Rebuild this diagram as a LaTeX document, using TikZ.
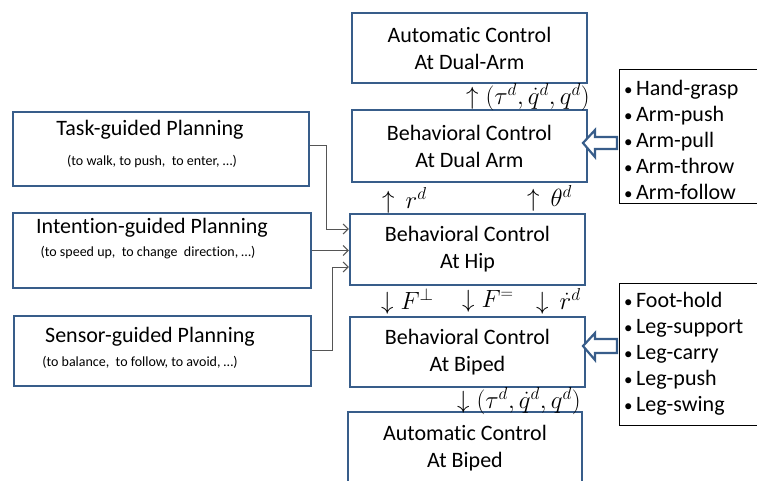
\documentclass[tikz,border=0pt]{standalone}
\usepackage{fontspec}
\setmainfont{Carlito}[Ligatures={NoCommon}]
\usetikzlibrary{arrows.meta}
\definecolor{boxblue}{RGB}{56,93,138}
\definecolor{linkgray}{RGB}{85,85,85}
\begin{document}
\begin{tikzpicture}[x=1pt,y=-1pt,
  ctrl/.style={draw=boxblue, line width=2.4pt, minimum width=235pt, minimum height=71pt,
    align=center, inner sep=0pt, font=\fontsize{22}{27}\selectfont},
  plan/.style={draw=boxblue, line width=2.4pt, inner sep=0pt},
  title/.style={font=\fontsize{22}{26}\selectfont, inner sep=0pt},
  sub/.style={font=\fontsize{14}{16}\selectfont, inner sep=0pt},
  sig/.style={font=\fontsize{24}{28}\selectfont, inner sep=0pt, anchor=west},
  link/.style={draw=linkgray, line width=1pt, -{Straight Barb[length=5pt,width=10pt]}},
  list/.style={draw=black, line width=0.8pt, inner sep=0pt, anchor=north west},
  item/.style={font=\fontsize{22}{26}\selectfont, anchor=base west, inner sep=0pt},
  hollow/.style={draw=boxblue, line width=2.2pt, fill=white, line join=miter},
]
\useasboundingbox (0,0) rectangle (757,480);

% control column
\node[ctrl, minimum height=70pt] (autoarm) at (469.5,48) {Automatic Control\\At Dual-Arm};
\node[ctrl, minimum height=72pt] (behavearm) at (469.5,146) {Behavioral Control\\At Dual Arm};
\node[ctrl] (hip) at (467.5,249.5) {Behavioral Control\\At Hip};
\node[ctrl, minimum height=70pt] (biped) at (467.5,352) {Behavioral Control\\At Biped};
\node[ctrl, minimum width=234pt, minimum height=72pt] (autobiped) at (465,448) {Automatic Control\\At Biped};

% signals between the control levels
\node[sig] (sigarm) at (466,97) {$\uparrow(\tau^d,\dot{q}^d,q^d)$};
\node[sig] (sigr) at (382,200) {$\uparrow\,r^d$};
\node[sig] (sigtheta) at (527,198) {$\uparrow\,\theta^d$};
\node[sig] (sigfperp) at (381,301) {$\downarrow F^{\perp}$};
\node[sig] (sigfpar) at (462,301) {$\downarrow F^{=}$};
\node[sig] (sigrdot) at (536,301) {$\downarrow\,\dot{r}^d$};
\node[sig] (sigleg) at (457,401) {$\downarrow(\tau^d,\dot{q}^d,q^d)$};

% planning boxes
\node[plan, minimum width=296pt, minimum height=74pt] (task) at (161,149) {};
\node[title] (tasktitle) at (150,130) {Task-guided Planning};
\node[sub] (tasksub) at (152,162) {(to walk, to push,\ \ to enter, …)};

\node[plan, minimum width=298pt, minimum height=75pt] (intent) at (162,250.5) {};
\node[title] (intenttitle) at (152,228) {Intention-guided Planning};
\node[sub] (intentsub) at (148,253) {(to speed up,\ \ to change\ \ direction, …)};

\node[plan, minimum width=297pt, minimum height=70pt] (sensor) at (162.5,351) {};
\node[title] (sensortitle) at (150,337) {Sensor-guided Planning};
\node[sub] (sensorsub) at (140,362) {(to balance,\ \ to follow, to avoid, …)};

% planning inputs to the hip
\draw[link] ([yshift=4pt]task.east) -- ++(16,0) |- ([yshift=20.5pt]hip.west);
\draw[link] (intent.east) -- (intent.east -| hip.west);
\draw[link] ([yshift=1pt]sensor.east) -- ++(20,0) |- ([yshift=-17.5pt]hip.west);

% behaviour lists
\node[list, minimum width=143pt, minimum height=134pt] (armlist) at (619,69) {};
\foreach \t [count=\i from 0] in {Hand-grasp,Arm-push,Arm-pull,Arm-throw,Arm-follow}
  \node[item] (arm\i) at (624,95+26*\i) {{\fontsize{17}{17}\selectfont•}\hspace{3.5pt}\t};

\node[list, minimum width=143pt, minimum height=142pt] (leglist) at (619,283) {};
\foreach \t [count=\i from 0] in {Foot-hold,Leg-support,Leg-carry,Leg-push,Leg-swing}
  \node[item] (leg\i) at (624,307+26*\i) {{\fontsize{17}{17}\selectfont•}\hspace{3.5pt}\t};

% hollow block arrows from the lists
\draw[hollow] (583,143) -- (595,130) -- (595,137) -- (617,137) -- (617,149)
  -- (595,149) -- (595,157) -- cycle;
\draw[hollow] (583,346) -- (595,333) -- (595,339) -- (617,339) -- (617,353)
  -- (595,353) -- (595,360) -- cycle;
\end{tikzpicture}
\end{document}
